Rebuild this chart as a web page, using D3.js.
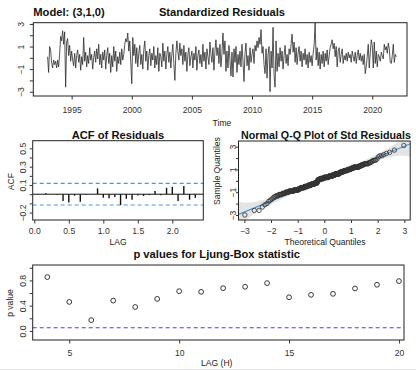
<!DOCTYPE html>
<html><head><meta charset="utf-8">
<script src="https://cdn.jsdelivr.net/npm/d3@7"></script>
<style>
body{margin:0;background:#fff;}
svg{font-family:"Liberation Sans",Arial,Helvetica,sans-serif;}
</style></head><body>
<svg id="c" width="416" height="371"></svg>
<script>
// ---------------- DATA ----------------
const modelLabel = "Model: (3,1,0)";
const residStartYear = 1993;           // monthly, first obs Jan 1993
const resid1990s = [
 0.1,-1.3,1.0,0.7,-0.4,-0.9,-0.2,-0.6,-0.3,-0.9,-0.2,-0.8,
 0.3,1.9,1.5,2.4,1.2,2.3,-2.6,1.4,1.7,0.2,1.1,-0.3,
 0.6,-0.2,-0.7,0.4,-0.9,0.2,0.7,-0.4,0.3,-1.1,0.1,-0.6,
 1.8,-0.3,0.5,-0.8,0.2,-0.5,0.9,-0.2,0.3,-1.0,0.0,0.6,
 -0.4,0.8,-0.1,1.2,-0.6,0.3,-0.9,0.5,-0.2,0.7,-1.0,0.2,
 0.9,-0.5,0.4,-1.3,0.2,-0.8,1.0,-0.3,0.6,-1.2,0.1,-0.5,
 0.5,-0.6,0.8,-0.2,0.3,1.2,1.7,1.4,2.2,0.6,1.5,-0.4];
const resid2000s = [
 -2.3,1.8,0.2,1.2,-0.5,0.9,-0.8,0.4,1.1,-0.6,0.3,-1.0,
 0.7,1.5,-0.3,0.6,-1.1,0.2,0.8,-0.7,0.4,-0.2,1.0,-0.9,
 0.2,-0.6,0.9,-1.2,0.4,0.1,-0.8,1.3,-0.3,0.6,-1.0,0.3,
 1.0,-0.4,0.5,-0.9,0.3,1.2,-0.5,-2.0,0.4,1.5,0.6,-0.2,
 1.3,0.2,0.8,-0.6,1.1,-0.3,0.5,-1.2,0.3,0.9,-0.7,0.1,
 0.6,-0.9,0.4,-0.2,1.0,-1.1,0.2,0.7,-0.5,0.3,-0.8,1.2,
 -0.3,0.5,-1.0,0.8,0.1,-0.6,1.4,0.3,-0.4,0.9,-1.1,0.6,
 1.6,0.2,0.9,-0.5,1.2,-0.8,0.4,2.2,0.3,1.5,-1.2,0.6,
 -0.9,1.1,-0.2,-1.6,0.5,-1.7,0.8,-0.4,1.0,-1.3,0.3,-0.6,
 0.6,-0.8,1.2,-0.3,-2.1,0.4,1.3,-0.7,0.2,-1.1,0.9,-0.4];
const resid2010s = [
 0.3,0.8,-0.5,1.1,0.6,1.5,0.9,1.8,1.2,2.5,0.4,1.0,
 -0.6,-1.4,0.8,-1.8,0.3,1.0,-3.0,0.6,-0.9,2.7,-1.5,-2.6,
 1.5,-1.2,0.4,-0.8,0.9,-0.3,0.6,-1.0,0.2,1.1,-0.5,0.3,
 -0.7,0.8,0.3,1.2,2.1,0.5,1.4,-0.4,0.9,-0.6,0.4,1.0,
 -0.3,0.6,-0.8,0.4,-0.2,0.8,-0.6,0.3,-0.9,0.5,-0.4,0.2,
 -0.7,0.4,1.1,3.1,-0.2,0.9,-0.7,0.5,-1.0,0.3,-0.5,0.6,
 -0.8,0.4,-0.3,0.7,-0.6,0.2,0.9,1.2,1.6,0.8,1.3,0.1,
 1.0,-0.8,0.6,0.9,-0.4,0.3,0.8,-0.5,0.2,-0.2,0.4,-0.3,
 0.5,0.0,0.3,-0.4,0.6,0.1,-0.3,0.5,-0.5,0.2,0.7,-0.2,
 0.4,-0.3,0.2,-0.6,0.3,-1.4,-0.8,0.1,1.2,-0.9,0.4,1.6];
const resid2020s = [
 1.1,-0.9,1.4,-0.5,0.6,-0.8,0.3,0.1,-0.3,0.5,0.2,-0.1,
 1.2,0.7,1.0,0.4,1.3,0.8,-0.4,-0.5,0.2,1.2,-0.4,0.3,
 0.1];
const timeTicks = [1995, 2000, 2005, 2010, 2015, 2020];
const residYTicks = [-3,-2,-1,0,1,2,3];
const residYLabels = [-3,-1,1,3];

// ACF of residuals, lags 1..28 months (shown in years)
const acfValues = [0.000,0.010,0.000,-0.005,-0.074,-0.089,-0.016,-0.081,-0.005,0.000,
 0.064,-0.038,-0.045,-0.030,-0.118,-0.050,-0.060,-0.015,-0.020,-0.010,
 0.035,-0.010,0.070,0.080,-0.074,0.090,-0.060,-0.040];
const acfBound = 0.118;
const acfXTicks = [0, 0.5, 1.0, 1.5, 2.0];
const acfYTicks = [-0.2,-0.1,0,0.1,0.2,0.3,0.4,0.5];
const acfYLabels = [-0.2, 0.1, 0.3, 0.5];

// Q-Q
const qqTicks = [-3,-2,-1,0,1,2,3];
const qqYLabels = [-3,-1,1,3];

// Ljung-Box
const lbLags = [4,5,6,7,8,9,10,11,12,13,14,15,16,17,18,19,20];
const lbPvalues = [0.853,0.459,0.171,0.480,0.379,0.507,0.629,0.619,0.677,0.699,0.757,0.533,0.571,0.587,0.672,0.731,0.789];
const lbLevel = 0.05;
const lbXTicks = [5,10,15,20];
const lbYTicks = [0,0.2,0.4,0.6,0.8,1.0];
const lbYLabels = [0, 0.4, 0.8];

// ---------------- HELPERS ----------------
const svg = d3.select("#c");
const FS = 8.6, TFS = 11.2, AXC = "#333";
const resid = resid1990s.concat(resid2000s, resid2010s, resid2020s);
const series = resid.map((v,i)=>({t: residStartYear + i/12, v}));

function frame(x0,y0,x1,y1){
  svg.append("rect").attr("x",x0).attr("y",y0).attr("width",x1-x0).attr("height",y1-y0)
    .attr("fill","none").attr("stroke","#222").attr("stroke-width",1);
}
function xAxis(scale, y, ticks, fmt, len, base){
  const g = svg.append("g").attr("transform",`translate(0,${y})`)
    .call(d3.axisBottom(scale).tickValues(ticks).tickFormat(fmt).tickSize(len).tickPadding(0));
  g.attr("font-family",null).attr("font-size",null);
  g.select(".domain").remove();
  g.selectAll("line").attr("stroke","#333");
  g.selectAll("text").attr("y", base - y).attr("dy",0).attr("font-size",FS).attr("fill",AXC);
}
function yAxis(scale, x, ticks, fmt, len, base){
  const g = svg.append("g").attr("transform",`translate(${x},0)`)
    .call(d3.axisLeft(scale).tickValues(ticks).tickFormat(fmt).tickSize(len));
  g.attr("font-family",null).attr("font-size",null);
  g.select(".domain").remove();
  g.selectAll("line").attr("stroke","#333");
  g.selectAll("text").attr("transform","rotate(-90)").attr("x",0).attr("y", base - x)
    .attr("dy",0).attr("text-anchor","middle").attr("font-size",FS).attr("fill",AXC);
}
function label(txt,x,y,opt={}){
  const t = svg.append("text").attr("x",x).attr("y",y).text(txt)
    .attr("text-anchor",opt.anchor||"middle").attr("font-size",opt.size||FS)
    .attr("fill",opt.fill||"#222");
  if(opt.bold) t.attr("font-weight","bold");
  if(opt.rot) t.attr("transform",`rotate(-90,${x},${y})`);
  return t;
}
const lbl = (set, f) => d => set.some(s=>Math.abs(s-d)<1e-9) ? f(d) : "";

// ---------------- PANEL 1: residuals ----------------
{
  const L=33.3,R=407,T=22.7,B=96;
  const x = d3.scaleLinear().domain([1991.81, 2022.89]).range([L,R]);
  const y = d3.scaleLinear().domain([-3.38, 3.11]).range([B,T]);
  svg.append("path").datum(series)
    .attr("d", d3.line().x(d=>x(d.t)).y(d=>y(d.v)))
    .attr("fill","none").attr("stroke","#2b2b2b").attr("stroke-width",0.8);
  frame(L,T,R,B);
  xAxis(x, B, timeTicks, d3.format("d"), 3.5, 113);
  yAxis(y, L, residYTicks, lbl(residYLabels, d3.format("d")), 3.5, 23.7);
  label(modelLabel, L, 16, {anchor:"start", bold:true, size:TFS, fill:"#111"});
  label("Standardized Residuals", 222, 16, {bold:true, size:TFS, fill:"#111"});
  label("Time", 222, 126);
}

// ---------------- PANEL 2: ACF ----------------
{
  const L=32.7,R=203.3,T=140.7,B=220;
  const x = d3.scaleLinear().domain([-0.023, 2.449]).range([L,R]);
  const y = d3.scaleLinear().domain([-0.281, 0.583]).range([B,T]);
  [acfBound, -acfBound].forEach(b=>{
    svg.append("line").attr("x1",L).attr("x2",R).attr("y1",y(b)).attr("y2",y(b))
      .attr("stroke","#3d9be9").attr("stroke-width",1.1).attr("stroke-dasharray","4,3");
  });
  svg.append("line").attr("x1",L).attr("x2",R).attr("y1",y(0)).attr("y2",y(0))
    .attr("stroke","#111").attr("stroke-width",1);
  svg.append("g").selectAll("line").data(acfValues).join("line")
    .attr("x1",(d,i)=>x((i+1)/12)).attr("x2",(d,i)=>x((i+1)/12))
    .attr("y1",y(0)).attr("y2",d=>y(d))
    .attr("stroke","#111").attr("stroke-width",1.4);
  frame(L,T,R,B);
  xAxis(x, B, acfXTicks, d3.format(".1f"), 3.5, 234);
  yAxis(y, L, acfYTicks, lbl(acfYLabels, d3.format(".1f")), 3, 25.7);
  label("ACF of Residuals", (L+R)/2, 139, {bold:true, size:TFS, fill:"#111"});
  label("LAG", (L+R)/2, 244.7);
  label("ACF", 13.7, 181.7, {rot:true});
}

// ---------------- PANEL 3: Normal Q-Q ----------------
{
  const L=238.5,R=410.2,T=141,B=220;
  const x = d3.scaleLinear().domain([-3.22, 3.22]).range([L,R]);
  const y = d3.scaleLinear().domain([-3.44, 3.5]).range([B,T]);
  function qnorm(p){
    const a=[-3.969683028665376e+01,2.209460984245205e+02,-2.759285104469687e+02,1.383577518672690e+02,-3.066479806614716e+01,2.506628277459239e+00];
    const b=[-5.447609879822406e+01,1.615858368580409e+02,-1.556989798598866e+02,6.680131188771972e+01,-1.328068155288572e+01];
    const c=[-7.784894002430293e-03,-3.223964580411365e-01,-2.400758277161838e+00,-2.549732539343734e+00,4.374664141464968e+00,2.938163982698783e+00];
    const d=[7.784695709041462e-03,3.224671290700398e-01,2.445134137142996e+00,3.754408661907416e+00];
    const pl=0.02425; let q,r;
    if(p<pl){q=Math.sqrt(-2*Math.log(p));return (((((c[0]*q+c[1])*q+c[2])*q+c[3])*q+c[4])*q+c[5])/((((d[0]*q+d[1])*q+d[2])*q+d[3])*q+1);}
    if(p<=1-pl){q=p-0.5;r=q*q;return (((((a[0]*r+a[1])*r+a[2])*r+a[3])*r+a[4])*r+a[5])*q/(((((b[0]*r+b[1])*r+b[2])*r+b[3])*r+b[4])*r+1);}
    q=Math.sqrt(-2*Math.log(1-p));return -(((((c[0]*q+c[1])*q+c[2])*q+c[3])*q+c[4])*q+c[5])/((((d[0]*q+d[1])*q+d[2])*q+d[3])*q+1);
  }
  function pnorm(z){const t=1/(1+0.2316419*Math.abs(z));const dd=0.3989423*Math.exp(-z*z/2);
    const p=dd*t*(0.3193815+t*(-0.3565638+t*(1.781478+t*(-1.821256+t*1.330274))));return z>0?1-p:p;}
  const dnorm = z => Math.exp(-z*z/2)/Math.sqrt(2*Math.PI);
  const sorted = resid.slice().sort(d3.ascending);
  const n = sorted.length;
  const pts = sorted.map((v,i)=>({z: qnorm((i+1-0.5)/n), v}));
  const q1 = d3.quantileSorted(sorted,0.25), q3 = d3.quantileSorted(sorted,0.75);
  const slope = (q3-q1)/(qnorm(0.75)-qnorm(0.25)), icpt = q1 - slope*qnorm(0.25);
  const grid = d3.range(-3.5, 3.5001, 0.05).map(z=>{
    const p = pnorm(z), se = slope/dnorm(z)*Math.sqrt(p*(1-p)/n), f = icpt + slope*z;
    return {z, lo: f-1.96*se, hi: f+1.96*se};
  });
  svg.append("clipPath").attr("id","qqclip").append("rect").attr("x",L).attr("y",T).attr("width",R-L).attr("height",B-T);
  const g = svg.append("g").attr("clip-path","url(#qqclip)");
  g.append("path").datum(grid).attr("d", d3.area().x(d=>x(d.z)).y0(d=>y(d.lo)).y1(d=>y(d.hi)))
    .attr("fill","#e4e4e4");
  g.append("line").attr("x1",x(-3.5)).attr("x2",x(3.5))
    .attr("y1",y(icpt+slope*-3.5)).attr("y2",y(icpt+slope*3.5))
    .attr("stroke","#3d8ed6").attr("stroke-width",1.1);
  g.selectAll("circle").data(pts).join("circle")
    .attr("cx",d=>x(d.z)).attr("cy",d=>y(d.v)).attr("r",2.2)
    .attr("fill","none").attr("stroke","#333").attr("stroke-width",0.8);
  frame(L,T,R,B);
  xAxis(x, B, qqTicks, d3.format("d"), 3, 234);
  yAxis(y, L, qqTicks, lbl(qqYLabels, d3.format("d")), 2.5, 236.2);
  label("Normal Q-Q Plot of Std Residuals", 326, 139, {bold:true, size:10.7, fill:"#111"});
  label("Theoretical Quantiles", 325, 244.7);
  label("Sample Quantiles", 219.8, 171, {rot:true});
}

// ---------------- PANEL 4: Ljung-Box ----------------
{
  const L=32.7,R=404,T=265,B=340;
  const x = d3.scaleLinear().domain([3.336, 20.23]).range([L,R]);
  const y = d3.scaleLinear().domain([-0.144, 1.044]).range([B,T]);
  svg.append("line").attr("x1",L).attr("x2",R).attr("y1",y(lbLevel)).attr("y2",y(lbLevel))
    .attr("stroke","#3f3fff").attr("stroke-width",1.1).attr("stroke-dasharray","4,3");
  svg.append("g").selectAll("circle").data(lbLags).join("circle")
    .attr("cx",d=>x(d)).attr("cy",(d,i)=>y(lbPvalues[i])).attr("r",2.4)
    .attr("fill","none").attr("stroke","#222").attr("stroke-width",0.9);
  frame(L,T,R,B);
  xAxis(x, B, lbXTicks, d3.format("d"), 3.5, 356.3);
  yAxis(y, L, lbYTicks, lbl(lbYLabels, d3.format(".1f")), 3, 25.7);
  label("p values for Ljung-Box statistic", 216.7, 258, {bold:true, size:TFS, fill:"#111"});
  label("LAG (H)", 216.7, 366.3);
  label("p value", 13, 303, {rot:true});
}
svg.append("line").attr("x1",0).attr("x2",416).attr("y1",369.5).attr("y2",369.5)
  .attr("stroke","#e4e4e4").attr("stroke-width",1);
</script>
</body></html>
